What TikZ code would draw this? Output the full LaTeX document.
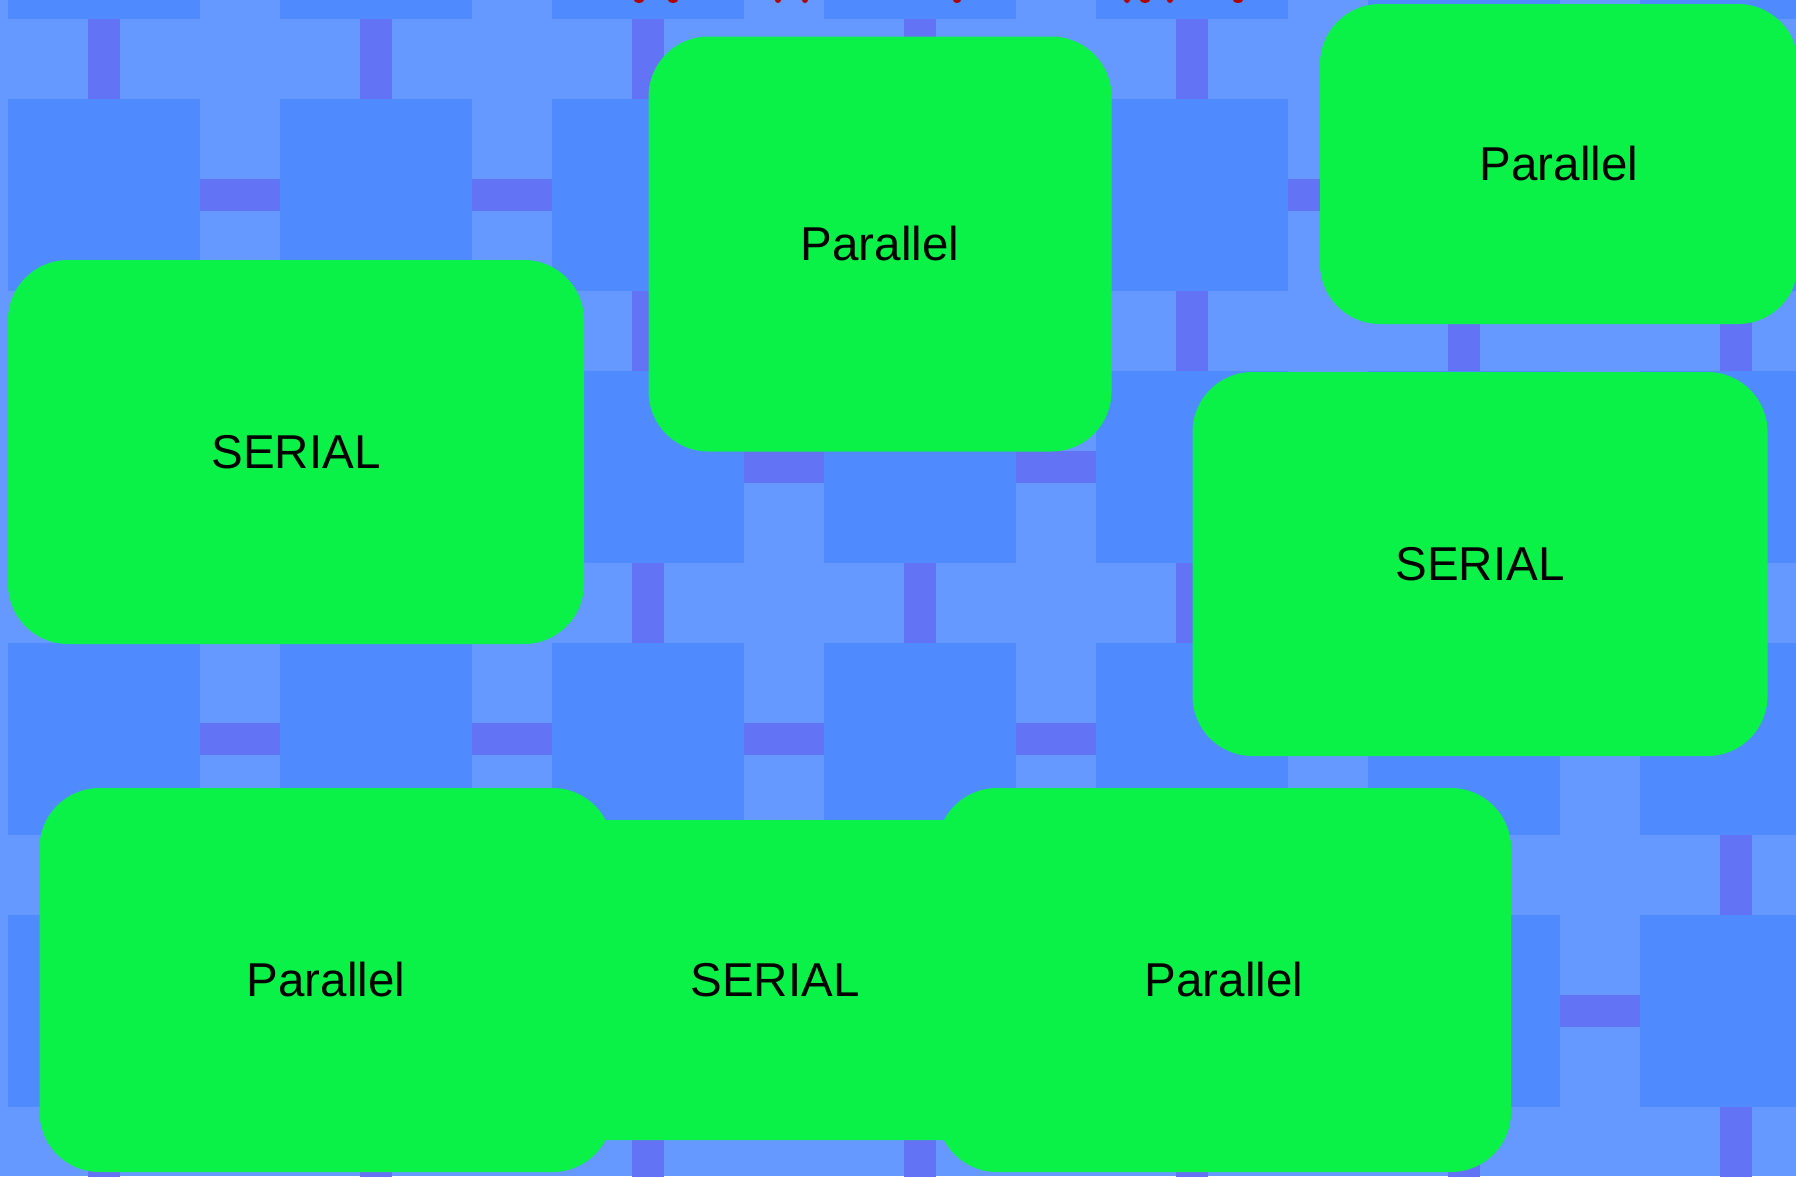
\documentclass[tikz,border=0pt]{standalone}
\usepackage{fontspec}
\setmainfont{Liberation Sans}
\definecolor{bgl}{RGB}{102,153,255}
\definecolor{sqc}{RGB}{79,139,255}
\definecolor{barc}{RGB}{99,115,245}
\definecolor{grc}{RGB}{10,242,71}
\definecolor{ttlc}{RGB}{176,0,0}
\begin{document}
\begin{tikzpicture}[x=1pt,y=-1pt,
  gbox/.style={fill=grc, rounded corners=60pt, inner sep=0pt, text=black,
    font=\fontsize{47.5}{57}\selectfont}]
\useasboundingbox (0,0) rectangle (1796,1176);
\clip (0,0) rectangle (1796,1176);
\fill[bgl] (0,0) rectangle (1796,1176);
\foreach \k in {0,...,6} {
  \foreach \j in {-1,...,4} {
    \fill[barc] ({88+272*\k},{19+272*\j}) rectangle ++(32,80);
    \fill[barc] ({200+272*\k},{179+272*\j}) rectangle ++(80,32);
    \fill[sqc] ({8+272*\k},{99+272*\j}) rectangle ++(192,192);
  }
}
% fragments of the cut-off title
\foreach \xx/\rr in {639/5,673/5,778/3,805/3,957/4,1127/3,1145/5,1170/3,1238/5} {
  \fill[ttlc] (\xx,0) ellipse ({\rr pt} and 3pt);
}
\node[gbox, minimum width=463pt, minimum height=415pt] (p1) at (880,244) {Parallel};
\node[gbox, minimum width=478pt, minimum height=320pt] (p2) at (1559,164) {Parallel};
\node[gbox, minimum width=576pt, minimum height=384pt] (s1) at (296,452) {SERIAL};
\node[gbox, minimum width=575pt, minimum height=384pt] (s2) at (1480,564) {SERIAL};
\node[gbox, minimum width=590pt, minimum height=320pt] (s3) at (775,980) {SERIAL};
\node[gbox, minimum width=573pt, minimum height=384pt] (p3) at (326,980) {Parallel};
\node[gbox, minimum width=574pt, minimum height=384pt] (p4) at (1224,980) {Parallel};
\end{tikzpicture}
\end{document}
